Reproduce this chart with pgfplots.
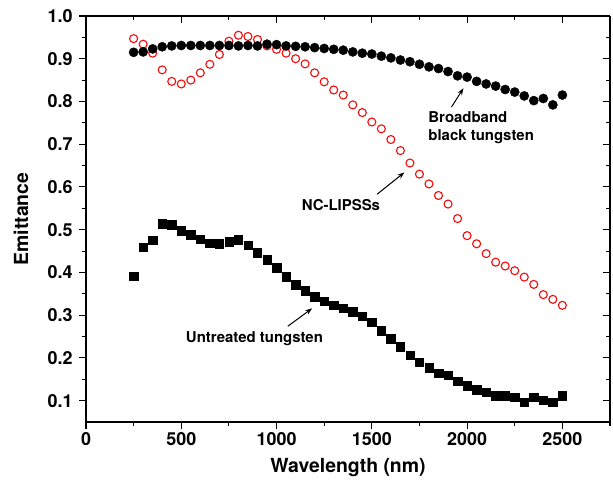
\documentclass[border=0pt]{standalone}
\usepackage{fontspec}
\setmainfont{TeX Gyre Heros}
\usepackage{pgfplots}
\pgfplotsset{compat=1.18}
\usetikzlibrary{arrows.meta}
\definecolor{nred}{RGB}{245,10,10}
\begin{document}
\begin{tikzpicture}
\pgfplotsset{
  common/.style={
    width=524bp, height=406bp, scale only axis,
    xmin=0, xmax=2750, ymin=0.05, ymax=1.0,
    xtick={0,500,...,2500}, minor xtick={250,750,...,2750},
    ytick={0.1,0.2,...,1.0}, minor ytick={0.15,0.25,...,0.95},
    major tick length=7bp, minor tick length=4bp,
    every tick/.style={line width=1.1bp, black},
    axis line style={line width=1.2bp},
  }
}
\begin{axis}[common,
  axis x line*=bottom, axis y line*=left,
  tick align=outside,
  /pgf/number format/assume math mode=true,
  ticklabel style={font=\fontsize{18}{19}\selectfont\bfseries},
  yticklabel style={/pgf/number format/.cd, fixed, fixed zerofill, precision=1, /tikz/.cd, xshift=-3bp},
  xticklabel style={/pgf/number format/.cd, 1000 sep={}},
  xlabel={\fontsize{19.5}{21}\selectfont\bfseries Wavelength (nm)},
  ylabel={\fontsize{19.5}{21}\selectfont\bfseries Emittance},
  xlabel style={at={(axis description cs:0.5,0)}, anchor=center, yshift=-46bp},
  ylabel style={at={(axis description cs:0,0.5)}, anchor=center, yshift=65bp},
  clip=false,
]
\addplot[only marks, mark=o, mark size=4bp, mark options={draw=nred, line width=1.1bp}] coordinates {
(250,0.947)(300,0.934)(350,0.913)(400,0.874)(450,0.847)(500,0.841)(550,0.850)(600,0.867)(650,0.887)(700,0.910)
(750,0.941)(800,0.955)(850,0.952)(900,0.945)(950,0.930)(1000,0.922)(1050,0.913)(1100,0.900)(1150,0.888)(1200,0.867)
(1250,0.846)(1300,0.827)(1350,0.815)(1400,0.792)(1450,0.774)(1500,0.752)(1550,0.736)(1600,0.711)(1650,0.685)(1700,0.656)
(1750,0.630)(1800,0.607)(1850,0.580)(1900,0.560)(1950,0.526)(2000,0.486)(2050,0.467)(2100,0.444)(2150,0.424)(2200,0.415)
(2250,0.404)(2300,0.389)(2350,0.372)(2400,0.348)(2450,0.337)(2500,0.323)};
\addplot[only marks, mark=*, mark size=4.6bp, mark options={fill=black, draw=black}] coordinates {
(250,0.915)(300,0.916)(350,0.923)(400,0.928)(450,0.930)(500,0.931)(550,0.931)(600,0.931)(650,0.931)(700,0.931)
(750,0.931)(800,0.930)(850,0.931)(900,0.930)(950,0.934)(1000,0.933)(1050,0.930)(1100,0.929)(1150,0.928)(1200,0.926)
(1250,0.924)(1300,0.922)(1350,0.920)(1400,0.916)(1450,0.913)(1500,0.911)(1550,0.906)(1600,0.902)(1650,0.897)(1700,0.893)
(1750,0.887)(1800,0.881)(1850,0.877)(1900,0.870)(1950,0.860)(2000,0.857)(2050,0.847)(2100,0.841)(2150,0.836)(2200,0.828)
(2250,0.822)(2300,0.813)(2350,0.802)(2400,0.807)(2450,0.792)(2500,0.815)};
\addplot[only marks, mark=square*, mark size=4.2bp, mark options={fill=black, draw=black}] coordinates {
(250,0.391)(300,0.459)(350,0.475)(400,0.514)(450,0.512)(500,0.498)(550,0.488)(600,0.478)(650,0.468)(700,0.467)
(750,0.472)(800,0.477)(850,0.464)(900,0.446)(950,0.430)(1000,0.411)(1050,0.390)(1100,0.371)(1150,0.357)(1200,0.343)
(1250,0.333)(1300,0.324)(1350,0.316)(1400,0.308)(1450,0.297)(1500,0.283)(1550,0.264)(1600,0.245)(1650,0.226)(1700,0.207)
(1750,0.190)(1800,0.177)(1850,0.164)(1900,0.159)(1950,0.145)(2000,0.135)(2050,0.126)(2100,0.120)(2150,0.112)(2200,0.112)
(2250,0.108)(2300,0.096)(2350,0.108)(2400,0.101)(2450,0.096)(2500,0.112)};
\draw[-{Stealth[length=7bp,width=5bp]}, line width=1bp] (axis cs:1918,0.787) -- (axis cs:1981,0.831);
\draw[-{Stealth[length=7bp,width=5bp]}, line width=1bp] (axis cs:1528,0.583) -- (axis cs:1671,0.634);
\draw[-{Stealth[length=7bp,width=5bp]}, line width=1bp] (axis cs:1059,0.274) -- (axis cs:1187,0.316);
\node[anchor=west, align=left, font=\fontsize{15}{18}\selectfont\bfseries, inner sep=0pt] at (axis cs:1796,0.738) {Broadband\\black tungsten};
\node[font=\fontsize{15}{16}\selectfont\bfseries, inner sep=0pt] at (axis cs:1338,0.557) {NC-LIPSSs};
\node[font=\fontsize{15}{16}\selectfont\bfseries, inner sep=0pt] at (axis cs:884,0.245) {Untreated tungsten};
\end{axis}
\begin{axis}[common,
  axis x line*=top, axis y line*=right,
  tick align=inside,
  xticklabels={}, yticklabels={},
]
\end{axis}
\pgfresetboundingbox
\path (current axis.south west) ++(-86bp,-65bp) coordinate (bl);
\path (current axis.north east) ++(3bp,16bp) coordinate (tr);
\useasboundingbox (bl) rectangle (tr);
\end{tikzpicture}
\end{document}
